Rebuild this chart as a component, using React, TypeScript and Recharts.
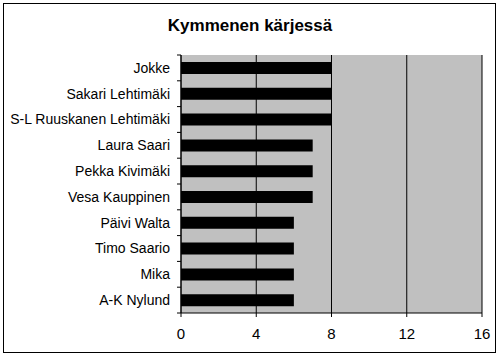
import { Bar, BarChart, CartesianGrid, XAxis, YAxis } from "recharts";

const names = [
  "Jokke",
  "Sakari Lehtimäki",
  "S-L Ruuskanen Lehtimäki",
  "Laura Saari",
  "Pekka Kivimäki",
  "Vesa Kauppinen",
  "Päivi Walta",
  "Timo Saario",
  "Mika",
  "A-K Nylund",
];
const scores = [8, 8, 8, 7, 7, 7, 6, 6, 6, 6];
const xTicks = [0, 4, 8, 12, 16];

const data = names.map((name, i) => ({ name, value: scores[i] }));

const FONT = "'Liberation Sans', Arial, sans-serif";

function NameTick(props: any) {
  const { x, y, payload, index } = props;
  const half = payload?.offset ?? 0;
  const last = index === names.length - 1;
  return (
    <g>
      <line x1={x - 4} x2={x} y1={y - half} y2={y - half} stroke="#000" />
      {last && <line x1={x - 4} x2={x} y1={y + half} y2={y + half} stroke="#000" />}
      <text
        x={x - 11}
        y={y}
        dy="0.355em"
        textAnchor="end"
        fontSize={14}
        fontFamily={FONT}
        fill="#000"
      >
        {payload.value}
      </text>
    </g>
  );
}

export default function App() {
  return (
    <div
      style={{
        position: "fixed",
        left: 0,
        top: 0,
        width: 500,
        height: 356,
        background: "#fff",
      }}
    >
      <div
        style={{
          position: "absolute",
          left: 3,
          top: 3,
          width: 491,
          height: 348,
          border: "1px solid #000",
        }}
      />
      <div
        style={{
          position: "absolute",
          left: 0,
          top: 17,
          width: 500,
          textAlign: "center",
          fontFamily: FONT,
          fontWeight: "bold",
          fontSize: 17,
          lineHeight: "17px",
          color: "#000",
        }}
      >
        Kymmenen kärjessä
      </div>
      <div style={{ position: "absolute", left: 0, top: 0 }}>
        <BarChart
          width={500}
          height={356}
          data={data}
          layout="vertical"
          margin={{ top: 55, right: 18, left: 0, bottom: 13 }}
          barSize={12}
        >
          <CartesianGrid
            horizontal={false}
            fill="#C0C0C0"
            fillOpacity={1}
            stroke="#000"
            strokeOpacity={1}
          />
          <XAxis
            type="number"
            domain={[0, 16]}
            ticks={xTicks}
            interval={0}
            height={30}
            tickSize={4}
            tickMargin={11}
            axisLine={{ stroke: "#000" }}
            tickLine={{ stroke: "#000" }}
            tick={{ fontSize: 15, fontFamily: FONT, fill: "#000" }}
          />
          <XAxis
            xAxisId="top"
            orientation="top"
            type="number"
            domain={[0, 16]}
            ticks={xTicks}
            height={0}
            tick={false}
            tickLine={false}
            axisLine={{ stroke: "#808080" }}
          />
          <YAxis
            type="category"
            dataKey="name"
            width={181}
            interval={0}
            tickSize={0}
            tickMargin={0}
            tickLine={false}
            axisLine={{ stroke: "#000" }}
            tick={<NameTick />}
          />
          <YAxis
            yAxisId="right"
            orientation="right"
            type="category"
            dataKey="name"
            width={0}
            tick={false}
            tickLine={false}
            axisLine={{ stroke: "#808080" }}
          />
          <Bar dataKey="value" fill="#000" isAnimationActive={false} />
        </BarChart>
      </div>
    </div>
  );
}
